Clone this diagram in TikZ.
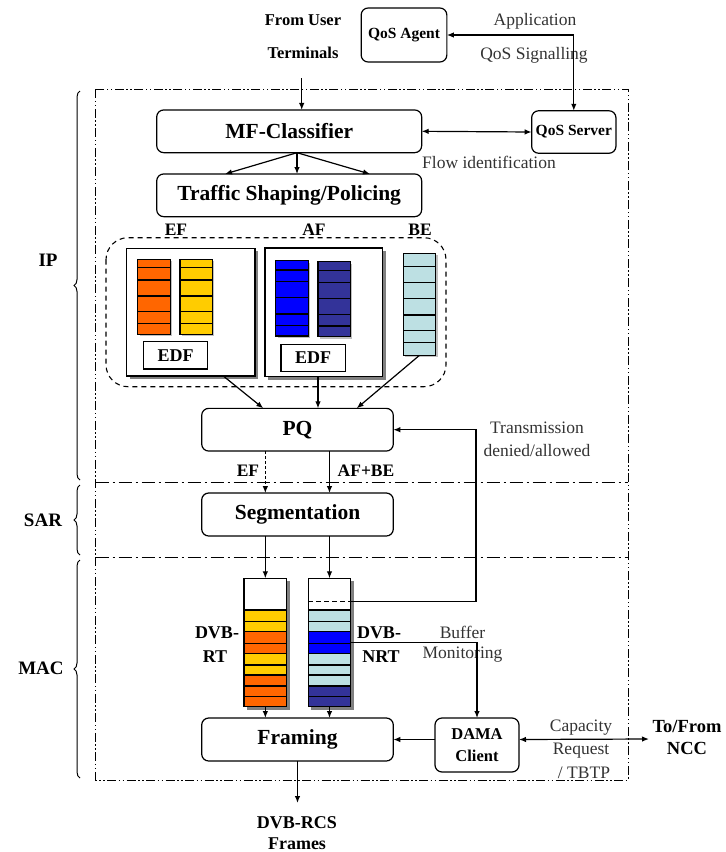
\documentclass[tikz,border=0pt]{standalone}
\usepackage{fontspec}
\setmainfont{Liberation Serif}
\usetikzlibrary{arrows.meta,decorations.pathreplacing,calc}
\definecolor{qorange}{HTML}{FF6600}
\definecolor{qyellow}{HTML}{FFCC00}
\definecolor{qblue}{HTML}{0000FF}
\definecolor{qdark}{HTML}{333399}
\definecolor{qcyan}{HTML}{BDE0E3}
\begin{document}
\begin{tikzpicture}[x=1pt,y=-1pt,
  every node/.style={inner sep=0pt, outer sep=0pt},
  box/.style={draw, line width=1.2pt, rounded corners=7pt, fill=white},
  plainbox/.style={draw, line width=1.2pt, fill=white},
  title/.style={font=\fontsize{21.5}{24}\selectfont\bfseries},
  lab/.style={font=\fontsize{17.5}{20}\selectfont\bfseries},
  dvb/.style={font=\fontsize{18}{20}\selectfont\bfseries},
  sml/.style={font=\fontsize{15.5}{18}\selectfont\bfseries},
  txt/.style={font=\fontsize{17.5}{20}\selectfont, text=black!80},
  layer/.style={font=\fontsize{19}{22}\selectfont\bfseries},
  arr/.style={line width=1.2pt, -{Latex[length=7pt,width=5.5pt]}},
  darr/.style={line width=1.2pt, {Latex[length=7pt,width=5.5pt]}-{Latex[length=7pt,width=5.5pt]}},
  ln/.style={line width=1.2pt},
  row/.style={line width=1.3pt, draw=black},
  outer/.style={line width=1pt, dash pattern=on 9pt off 2.5pt on 1.5pt off 2.5pt on 1.5pt off 2.5pt},
  sep/.style={line width=1.2pt, dash pattern=on 13pt off 4pt on 2pt off 4pt},
  grp/.style={line width=1.1pt, dash pattern=on 5pt off 4pt, rounded corners=22pt},
  brc/.style={line width=1pt, decorate, decoration={brace, amplitude=6pt}},
  shd/.style={fill=black!50},
  lshd/.style={fill=black!25}]
\useasboundingbox (0,0) rectangle (726,852);

% ---------- layer frames ----------
\draw[outer] (95.7,89.3) rectangle (628,780);
\draw[sep] (95.7,482.7) -- (628,482.7);
\draw[sep] (95.7,557.7) -- (628,557.7);
\draw[brc] (80,480) -- (80,91);
\draw[brc] (80,555) -- (80,485);
\draw[brc] (80,778) -- (80,560);
\node[layer] (lip) at (48,260) {IP};
\node[layer] (lsar) at (43,520) {SAR};
\node[layer] (lmac) at (41,668) {MAC};

% ---------- top ----------
\node[sml, font=\fontsize{16.5}{18}\selectfont\bfseries] (fu1) at (303,20) {From User};
\node[sml, font=\fontsize{16.5}{18}\selectfont\bfseries] (fu2) at (303,53) {Terminals};
\node[box, sml, minimum width=85.7pt, minimum height=54pt] (qa) at (404,35) {QoS Agent};
\node[txt] (app) at (535,21) {Application};
\node[txt] (sig) at (534,55) {QoS Signalling};
\node[box, sml, minimum width=84.3pt, minimum height=42.5pt] (qs) at (573.8,132) {QoS Server};
\node[box, title, minimum width=265pt, minimum height=42.7pt] (mf) at (289.2,131.3) {MF-Classifier};
\node[box, title, minimum width=265pt, minimum height=42.7pt] (ts) at (289.2,195.3) {Traffic Shaping/Policing};
\node[txt] (flow) at (489,162) {Flow identification};

\coordinate (fu) at (301.7,78);
\draw[arr] (fu) -- (fu |- mf.north);
\draw[darr] (qa.east) -| (qs.north);
\draw[darr] (mf.east) -- (qs.west);
\coordinate (fo) at (297,152.7);
\coordinate (t1) at (225,174);
\coordinate (t2) at (297,174);
\coordinate (t3) at (370,174);
\draw[arr] (fo) -- (t1);
\draw[arr] (fo) -- (t2);
\draw[arr] (fo) -- (t3);

% ---------- class queues ----------
\node[lab] (lef) at (176,230) {EF};
\node[lab] (laf) at (314,230) {AF};
\node[lab] (lbe) at (420,230) {BE};
\draw[grp] (106,237.7) rectangle (446,386.7);

\fill[shd] (130,251.3) rectangle (258,379);
\node[plainbox, minimum width=128.3pt, minimum height=127.7pt] (efb) at (190.8,312.2) {};
\fill[shd] (268,251) rectangle (385.7,379.7);
\node[plainbox, minimum width=117.7pt, minimum height=128.7pt] (afb) at (323.8,312.3) {};

% EF queues
\fill[lshd] (139.7,261.3) rectangle (172.3,336.3);
\fill[qorange] (137.7,259.3) rectangle (170.3,334.3);
\foreach \y in {267.7,280,296,311.7,323.3} \draw[row] (137.7,\y) -- (170.3,\y);
\draw[ln] (137.7,259.3) rectangle (170.3,334.3);
\fill[lshd] (182,261.3) rectangle (214.3,336.3);
\fill[qyellow] (180,259.3) rectangle (212.3,334.3);
\foreach \y in {267.7,280,296,311.7,323.3} \draw[row] (180,\y) -- (212.3,\y);
\draw[ln] (180,259.3) rectangle (212.3,334.3);
\node[plainbox, lab, font=\fontsize{18}{20}\selectfont\bfseries, minimum width=64.4pt, minimum height=27.3pt] (edf1) at (175.5,355.3) {EDF};

% AF queues
\fill[lshd] (277.7,262.7) rectangle (310.3,338);
\fill[qblue] (275.7,260.7) rectangle (308.3,336);
\foreach \y in {270,281.7,297.7,314,325.3} \draw[row] (275.7,\y) -- (308.3,\y);
\draw[ln] (275.7,260.7) rectangle (308.3,336);
\fill[lshd] (320,263.7) rectangle (352.3,338.7);
\fill[qdark] (318,261.7) rectangle (350.3,336.7);
\foreach \y in {270.7,282.3,298.3,314.3,326} \draw[row] (318,\y) -- (350.3,\y);
\draw[ln] (318,261.7) rectangle (350.3,336.7);
\node[plainbox, lab, font=\fontsize{18}{20}\selectfont\bfseries, minimum width=64.3pt, minimum height=27.4pt] (edf2) at (313.2,358) {EDF};

% BE queue
\fill[lshd] (405.3,255.3) rectangle (437.7,357.3);
\fill[qcyan] (403.3,253.3) rectangle (435.7,355.3);
\foreach \y in {266.7,282.7,298.7,315,330.3,342.7} \draw[row] (403.3,\y) -- (435.7,\y);
\node[draw, line width=1.2pt, minimum width=32.4pt, minimum height=102pt] (beq) at (419.5,304.3) {};

% ---------- PQ ----------
\node[box, title, minimum width=191.6pt, minimum height=42.7pt] (pq) at (297.5,429.7) {PQ};
\coordinate (p1) at (223.3,376);
\coordinate (p1e) at (263.3,408.3);
\coordinate (p2) at (318,376.7);
\coordinate (p3e) at (356.7,408.3);
\draw[arr] (p1) -- (p1e);
\draw[arr] (p2) -- (p2 |- pq.north);
\draw[arr] (beq.south) -- (p3e);

\node[box, title, minimum width=191.6pt, minimum height=43pt] (seg) at (297.5,514.5) {Segmentation};

% ---------- DVB queues ----------
\fill[shd] (247,581.3) rectangle (289.7,709.7);
\fill[white] (244,578.3) rectangle (286.7,610);
\foreach \a/\b/\c in {610/621.7/qyellow,621.7/631.7/qyellow,631.7/643.3/qorange,643.3/653.3/qorange,653.3/665/qyellow,665/675/qyellow,675/686/qorange,686/696.7/qorange,696.7/706.7/qorange}
  \fill[\c] (244,\a) rectangle (286.7,\b);
\foreach \y in {610,621.7,631.7,643.3,653.3,665,675,686,696.7} \draw[row] (244,\y) -- (286.7,\y);
\node[draw, line width=1.2pt, minimum width=42.7pt, minimum height=128.4pt] (rt) at (265.35,642.5) {};

\fill[shd] (311.3,581.3) rectangle (353.7,709.7);
\fill[white] (308.3,578.3) rectangle (350.7,610);
\foreach \a/\b/\c in {610/621.7/qcyan,621.7/631.7/qcyan,631.7/643.3/qblue,643.3/653.3/qblue,653.3/665/qcyan,665/675/qcyan,675/686/qcyan,686/696.7/qdark,696.7/706.7/qdark}
  \fill[\c] (308.3,\a) rectangle (350.7,\b);
\foreach \y in {610,621.7,631.7,643.3,653.3,665,675,686,696.7} \draw[row] (308.3,\y) -- (350.7,\y);
\draw[line width=1pt, dash pattern=on 5pt off 3pt] (308.3,601.7) -- (350.7,601.7);
\node[draw, line width=1.2pt, minimum width=42.4pt, minimum height=128.4pt] (nrt) at (329.5,642.5) {};

\node[dvb] (rt1) at (217,633) {DVB-};
\node[dvb] (rt2) at (215,656.7) {RT};
\node[dvb] (nrt1) at (379,633) {DVB-};
\node[dvb] (nrt2) at (381,656.7) {NRT};

% PQ -> Segmentation
\draw[arr, line width=1pt, dash pattern=on 3pt off 2pt] (pq.south -| rt.north) -- (seg.north -| rt.north);
\draw[arr] (pq.south -| nrt.north) -- (seg.north -| nrt.north);
\node[lab] (lef2) at (248,471) {EF};
\node[lab] (lafbe) at (366,471) {AF+BE};

% Segmentation -> queues
\draw[arr] (seg.south -| rt.north) -- (rt.north);
\draw[arr] (seg.south -| nrt.north) -- (nrt.north);

% ---------- Framing / DAMA ----------
\node[box, title, minimum width=191.6pt, minimum height=43pt] (fr) at (297.5,739.5) {Framing};
\node[box, minimum width=84pt, minimum height=54pt, align=center, font=\fontsize{16.5}{22}\selectfont\bfseries] (dama) at (477,745) {DAMA\\Client};

\draw[arr] (rt.south) -- (rt.south |- fr.north);
\draw[arr] (nrt.south) -- (nrt.south |- fr.north);

% Transmission denied/allowed
\coordinate (tq) at (350.7,601.7);
\coordinate (tc) at (476,429.7);
\draw[arr] (tq) -| (tc) -- (pq.east);
\node[txt] (tr1) at (537,428) {Transmission};
\node[txt] (tr2) at (537,451) {denied/allowed};

% Buffer monitoring
\coordinate (bm) at (350.7,642.7);
\node[txt] (bf1) at (462.5,632) {Buffer};
\node[txt] (bf2) at (462.5,655) {Monitoring};
\draw[arr] (bm) -| (dama.north);

\draw[arr] (dama.west |- fr.east) -- (fr.east);
\coordinate (ncc) at (649,739);
\draw[darr] (dama.east |- fr.east) -- (ncc);
\node[txt] (cap1) at (581,728) {Capacity};
\node[txt] (cap2) at (581,751) {Request};
\node[txt] (cap3) at (584,773) {/ TBTP};
\node[lab, font=\fontsize{18.5}{20}\selectfont\bfseries] (to1) at (687,726) {To/From};
\node[lab, font=\fontsize{18.5}{20}\selectfont\bfseries] (to2) at (687,748) {NCC};

\coordinate (out) at (297.5,803);
\draw[arr] (fr.south) -- (out);
\node[dvb] (ds1) at (297,823) {DVB-RCS};
\node[dvb] (ds2) at (297,843.5) {Frames};
\end{tikzpicture}
\end{document}
